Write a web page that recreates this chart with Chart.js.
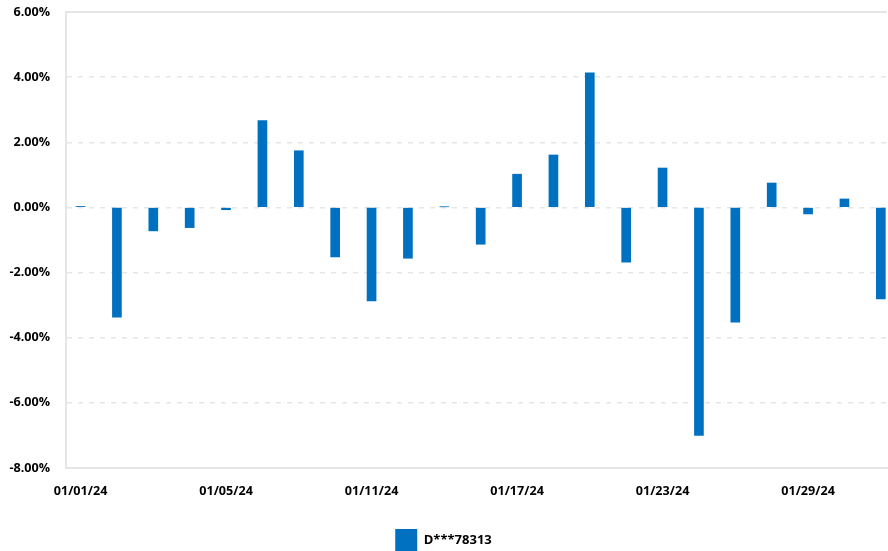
<!DOCTYPE html>
<html>
<head>
<meta charset="utf-8">
<script src="https://cdn.jsdelivr.net/npm/chart.js@4.4.1/dist/chart.umd.min.js"></script>
<style>
  html, body { margin: 0; padding: 0; background: #fff; }
  #wrap { width: 888px; height: 551px; }
</style>
</head>
<body>
<div id="wrap"><canvas id="c" width="888" height="551"></canvas></div>
<script>
// ---- data ----
const dates = ["01/01/24","01/02/24","01/03/24","01/04/24","01/05/24","01/08/24","01/09/24","01/10/24","01/11/24","01/12/24","01/15/24","01/16/24","01/17/24","01/18/24","01/19/24","01/22/24","01/23/24","01/24/24","01/25/24","01/26/24","01/29/24","01/30/24","01/31/24"];
const returnsPct = [0.03,-3.37,-0.72,-0.62,-0.07,2.67,1.74,-1.52,-2.87,-1.56,0.02,-1.13,1.02,1.61,4.13,-1.68,1.21,-7.00,-3.52,0.75,-0.20,0.26,-2.81];
const seriesName = "D***78313";
const xTickIndices = [0,4,8,12,16,20];
const yTicks = [6,4,2,0,-2,-4,-6,-8];

const BLUE = "#0070C0";
const LINE = "#e6e6e6";
const FONT = { family: "'Open Sans', sans-serif", size: 12.6, weight: "bold" };

const topLine = {
  id: "topLine",
  afterDraw(chart) {
    const a = chart.chartArea, ctx = chart.ctx;
    ctx.save();
    ctx.strokeStyle = LINE;
    ctx.lineWidth = 2;
    ctx.beginPath();
    ctx.moveTo(a.left, a.top);
    ctx.lineTo(a.right, a.top);
    ctx.stroke();
    ctx.restore();
  }
};

new Chart(document.getElementById("c"), {
  type: "bar",
  data: {
    datasets: [{
      label: seriesName,
      data: dates.map((d, i) => ({ x: i, y: returnsPct[i] })),
      backgroundColor: BLUE,
      borderWidth: 0,
      barThickness: 9
    }]
  },
  options: {
    responsive: false,
    animation: false,
    devicePixelRatio: 1,
    layout: { padding: { top: 0, right: 1, left: 0, bottom: -10 } },
    plugins: {
      tooltip: { enabled: false },
      legend: {
        position: "bottom",
        labels: {
          boxWidth: 22, boxHeight: 22, padding: 0,
          color: "#000",
          font: { family: "'Open Sans', sans-serif", size: 13, weight: "bold" }
        }
      }
    },
    scales: {
      x: {
        type: "linear",
        offset: false,
        min: -0.4,
        max: 22.17,
        afterBuildTicks(scale) { scale.ticks = xTickIndices.map(v => ({ value: v })); },
        afterFit(scale) { scale.height = 61; },
        grid: { display: false },
        border: { display: true, color: LINE, width: 2 },
        ticks: {
          color: "#000",
          font: FONT,
          padding: 8,
          maxRotation: 0,
          autoSkip: false,
          callback: (v) => dates[v] ?? ""
        }
      },
      y: {
        min: -8,
        max: 6,
        afterBuildTicks(scale) { scale.ticks = yTicks.map(v => ({ value: v })); },
        afterFit(scale) { scale.width = 66; scale.paddingTop = 12; scale.paddingBottom = 0; },
        grid: { color: LINE, lineWidth: 1.5, drawTicks: false },
        border: { display: true, color: LINE, width: 2, dash: [5, 6] },
        ticks: {
          color: "#000",
          font: FONT,
          padding: 16,
          callback: (v) => v.toFixed(2) + "%"
        }
      }
    }
  },
  plugins: [topLine]
});
</script>
</body>
</html>
